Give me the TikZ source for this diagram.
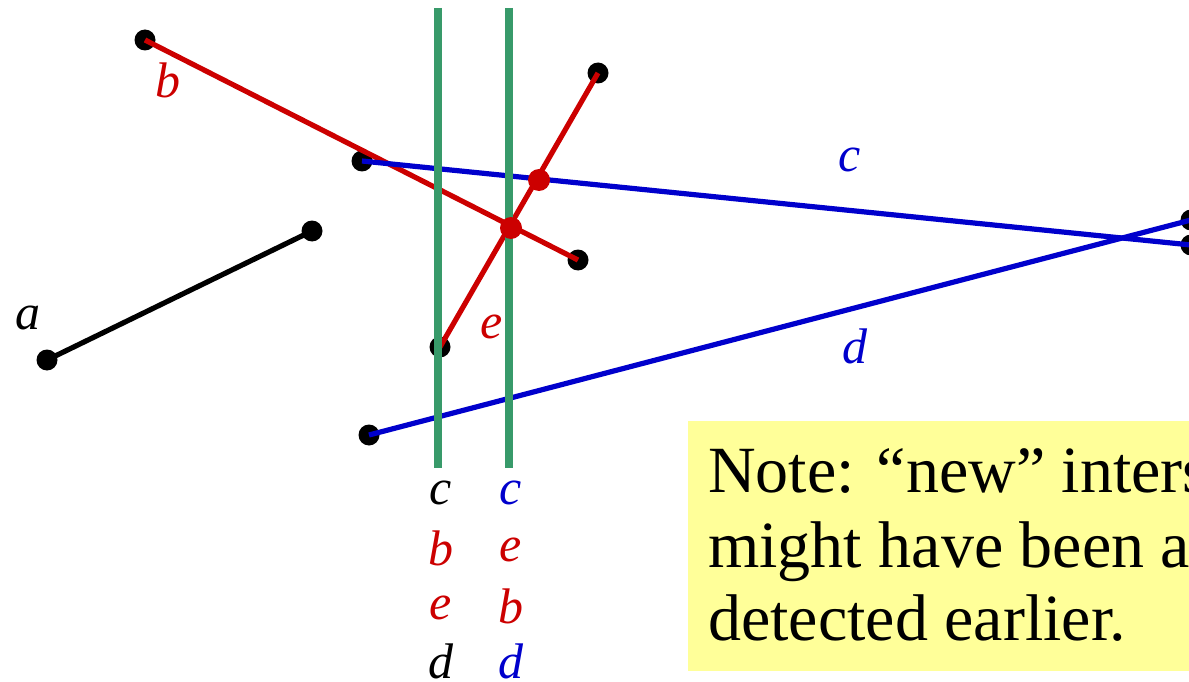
\documentclass[tikz,border=0pt]{standalone}
\usepackage{fontspec}
\setmainfont{Liberation Serif}
\definecolor{sred}{RGB}{204,0,0}
\definecolor{sblue}{RGB}{0,0,204}
\definecolor{sgreen}{RGB}{56,154,106}
\definecolor{syellow}{RGB}{255,255,153}
\tikzset{
  endpt/.style={circle,fill=black,inner sep=0pt,minimum size=21pt},
  crosspt/.style={circle,fill=sred,inner sep=0pt,minimum size=22pt},
  seg/.style={line width=5.2pt},
  sweep/.style={line width=7.5pt,draw=sgreen},
  lbl/.style={font=\fontsize{50}{50}\selectfont\itshape,inner sep=0pt},
  notetxt/.style={font=\fontsize{66}{74}\selectfont,anchor=base west,inner sep=0pt}
}
\begin{document}
\begin{tikzpicture}[x=1pt,y=-1pt]
\useasboundingbox (0,0) rectangle (1189,682);
\clip (0,0) rectangle (1189,682);
% endpoints
\node[endpt] (a1) at (47,360) {};
\node[endpt] (a2) at (312,231) {};
\node[endpt] (b1) at (145,40) {};
\node[endpt] (b2) at (578,260) {};
\node[endpt] (c1) at (362,161) {};
\node[endpt] (c2) at (1191,245) {};
\node[endpt] (d1) at (369,435) {};
\node[endpt] (d2) at (1191,220) {};
\node[endpt] (e1) at (440,347) {};
\node[endpt] (e2) at (598,73) {};
% segments
\draw[seg,black] (a1.center) -- (a2.center);
\draw[seg,sred] (b1.center) -- (b2.center);
\draw[seg,sblue] (c1.center) -- (c2.center);
\draw[seg,sblue] (d1.center) -- (d2.center);
\draw[seg,sred] (e1.center) -- (e2.center);
% sweep lines
\coordinate (s1t) at (438,8);
\coordinate (s1b) at (438,468);
\coordinate (s2t) at (509,8);
\coordinate (s2b) at (509,468);
\draw[sweep] (s1t) -- (s1b);
\draw[sweep] (s2t) -- (s2b);
% intersections
\node[crosspt] (be) at (511,228) {};
\node[crosspt] (ce) at (539,180) {};
% segment labels
\node[lbl,text=black] (la) at (28,318) {a};
\node[lbl,text=sred] (lb) at (168,80) {b};
\node[lbl,text=sblue] (lc) at (850,160) {c};
\node[lbl,text=sblue] (ld) at (855,346) {d};
\node[lbl,text=sred] (le) at (492,327) {e};
% status lists
\node[lbl,text=black] (l11) at (441,493) {c};
\node[lbl,text=sred] (l12) at (441,548) {b};
\node[lbl,text=sred] (l13) at (441,608) {e};
\node[lbl,text=black] (l14) at (441,661) {d};
\node[lbl,text=sblue] (l21) at (511,493) {c};
\node[lbl,text=sred] (l22) at (511,550) {e};
\node[lbl,text=sred] (l23) at (511,606) {b};
\node[lbl,text=sblue] (l24) at (511,661) {d};
% note
\fill[syellow] (688,421) rectangle (1200,671);
\node[notetxt] (n1) at (708,492) {Note: “new” intersection};
\node[notetxt] (n2) at (708,567) {might have been already};
\node[notetxt] (n3) at (708,640) {detected earlier.};
\end{tikzpicture}
\end{document}
